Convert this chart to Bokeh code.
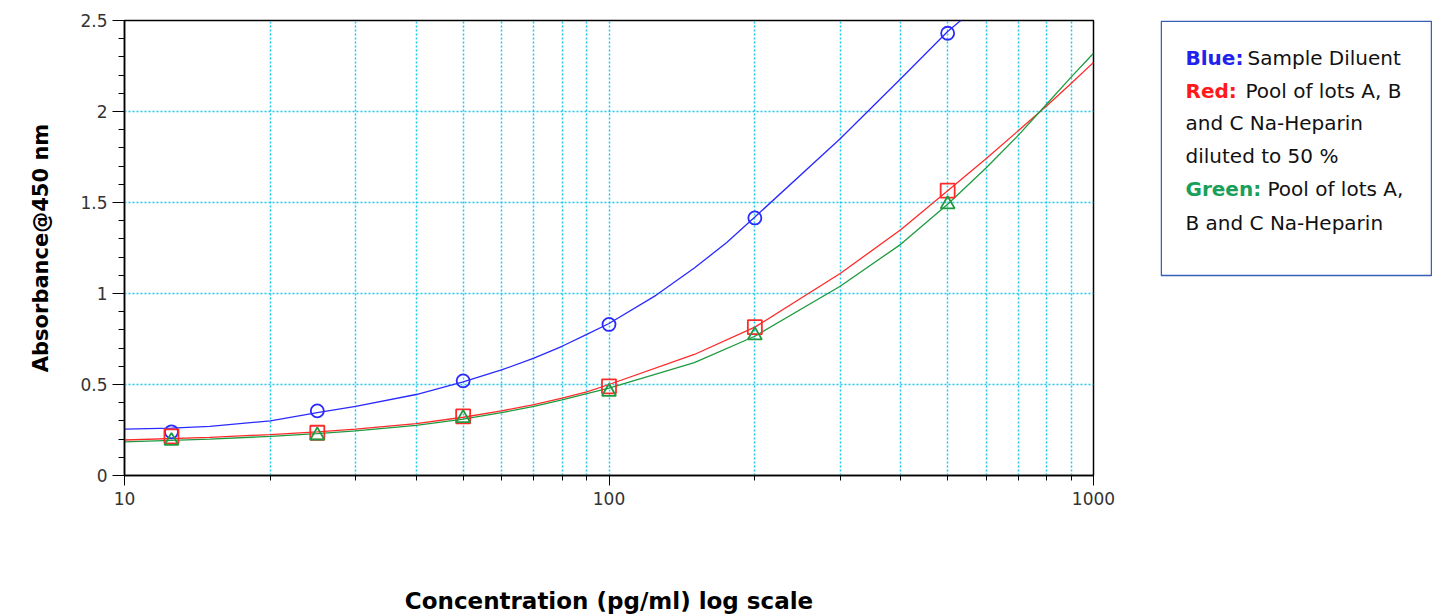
from bokeh.plotting import figure
from bokeh.models import Range1d, FixedTicker, SingleIntervalTicker, Label, BoxAnnotation
from bokeh.layouts import row
from bokeh.embed import file_html
from bokeh.resources import INLINE
from bokeh.core.validation import silence
from bokeh.core.validation.warnings import MISSING_RENDERERS

silence(MISSING_RENDERERS, True)

# ---- data ----
conc = [12.5, 25, 50, 100, 200, 500]
blue_pts = [0.24, 0.355, 0.52, 0.83, 1.415, 2.43]
red_pts = [0.215, 0.235, 0.325, 0.49, 0.815, 1.565]
green_pts = [0.19, 0.22, 0.315, 0.46, 0.77, 1.49]

blue_fit_x = [10, 12.5, 15, 20, 25, 30, 40, 50, 60, 70, 80, 90, 100, 125, 150, 175, 200, 300, 400, 500, 532]
blue_fit_y = [0.255, 0.26, 0.27, 0.30, 0.345, 0.38, 0.445, 0.515, 0.58, 0.645, 0.71, 0.775, 0.835,
              0.99, 1.14, 1.28, 1.42, 1.85, 2.18, 2.44, 2.5]
red_fit_x = [10, 15, 20, 25, 30, 40, 50, 60, 70, 80, 90, 100, 150, 200, 300, 400, 500, 600, 700, 800, 900, 1000]
red_fit_y = [0.195, 0.21, 0.225, 0.24, 0.255, 0.285, 0.32, 0.355, 0.39, 0.425, 0.46, 0.50, 0.665, 0.815,
             1.11, 1.35, 1.565, 1.74, 1.895, 2.03, 2.155, 2.27]
green_fit_x = [10, 15, 20, 25, 30, 40, 50, 60, 70, 80, 90, 100, 150, 200, 300, 400, 500, 600, 700, 800, 900, 1000]
green_fit_y = [0.185, 0.20, 0.215, 0.23, 0.245, 0.275, 0.31, 0.345, 0.38, 0.415, 0.45, 0.48, 0.62, 0.765,
               1.04, 1.27, 1.49, 1.69, 1.87, 2.04, 2.19, 2.32]

x_major = [10, 100, 1000]
x_major_labels = ["10", "100", "1000"]
x_minor = [20, 30, 40, 50, 60, 70, 80, 90, 200, 300, 400, 500, 600, 700, 800, 900]
y_major = [0, 0.5, 1, 1.5, 2, 2.5]
y_major_labels = ["0", "0.5", "1", "1.5", "2", "2.5"]

BLUE = "#2a2aff"
RED = "#ff2a2a"
GREEN = "#1f9a40"
GRID = "#1ec8ee"

H = 616
TOP = 20
BOTTOM = 141

p = figure(width=1160, height=H, x_axis_type="log",
           x_range=Range1d(10, 1000), y_range=Range1d(0, 2.5),
           toolbar_location=None, output_backend="svg",
           min_border_left=124, min_border_right=67, min_border_top=TOP, min_border_bottom=BOTTOM)
p.background_fill_color = "white"
p.border_fill_color = "white"
p.outline_line_color = "black"
p.outline_line_width = 1.5

# axes
p.xaxis.ticker = FixedTicker(ticks=x_major, minor_ticks=x_minor)
p.xaxis.major_label_overrides = dict(zip(x_major, x_major_labels))
p.yaxis.ticker = SingleIntervalTicker(interval=0.5, num_minor_ticks=5)
p.yaxis.major_label_overrides = dict(zip(y_major, y_major_labels))
for ax in (p.xaxis, p.yaxis):
    ax.axis_line_color = "black"
    ax.axis_line_width = 1.5
    ax.major_tick_line_color = "black"
    ax.minor_tick_line_color = "black"
    ax.major_tick_in = 0
    ax.minor_tick_in = 0
    ax.major_label_text_font = "DejaVu Sans"
    ax.major_label_text_font_size = "17px"
    ax.major_label_text_color = "#333333"
    ax.axis_label_text_color = "black"
    ax.axis_label_text_font_style = "bold"
    ax.axis_label_text_font = "DejaVu Sans"
p.xaxis.major_tick_out = 10
p.xaxis.minor_tick_out = 5
p.yaxis.major_tick_out = 12
p.yaxis.minor_tick_out = 6
p.xaxis.major_label_standoff = 6
p.yaxis.major_label_standoff = 5

p.xaxis.axis_label = "Concentration (pg/ml) log scale"
p.xaxis.axis_label_text_font_size = "23px"
p.xaxis.axis_label_standoff = 80
p.yaxis.axis_label = "Absorbance@450 nm"
p.yaxis.axis_label_text_font_size = "21px"
p.yaxis.axis_label_standoff = 24

# grid
p.xgrid.grid_line_color = GRID
p.xgrid.grid_line_dash = "2 2"
p.xgrid.grid_line_width = 1.5
p.xgrid.minor_grid_line_color = GRID
p.xgrid.minor_grid_line_dash = "2 2"
p.xgrid.minor_grid_line_width = 1.5
p.ygrid.grid_line_color = GRID
p.ygrid.grid_line_dash = "2 2"
p.ygrid.grid_line_width = 1.5

# fitted curves
p.line(blue_fit_x, blue_fit_y, line_color=BLUE, line_width=1.3)
p.line(red_fit_x, red_fit_y, line_color=RED, line_width=1.3)
p.line(green_fit_x, green_fit_y, line_color=GREEN, line_width=1.3)

# data points
p.scatter(conc, blue_pts, marker="circle", size=13, fill_color=None, line_color=BLUE, line_width=1.8)
p.scatter(conc, red_pts, marker="square", size=14, fill_color=None, line_color=RED, line_width=1.8)
p.scatter(conc, green_pts, marker="triangle", size=14, fill_color=None, line_color=GREEN, line_width=1.8)

# ---- legend panel (page-pixel coordinates: x to the right, y downward) ----
q = figure(width=272, height=H, x_range=Range1d(1160, 1432), y_range=Range1d(475, 20),
           toolbar_location=None, output_backend="svg",
           min_border_left=0, min_border_right=0, min_border_top=TOP, min_border_bottom=BOTTOM)
q.axis.visible = False
q.grid.visible = False
q.outline_line_color = None
q.background_fill_color = "white"
q.border_fill_color = "white"
q.add_layout(BoxAnnotation(left=1160.75, right=1431, top=20.75, bottom=275,
                           fill_color=None, fill_alpha=0,
                           line_color="#3560b8", line_alpha=1.0, line_width=1.5))

legend_items = [
    (1185, 57, "Blue:", "#2222ee", "bold"),
    (1247, 57, "Sample Diluent", "#111111", "normal"),
    (1185, 90, "Red:", "#ff1a1a", "bold"),
    (1245, 90, "Pool of lots A, B", "#111111", "normal"),
    (1185, 122, "and C Na-Heparin", "#111111", "normal"),
    (1185, 155, "diluted to 50 %", "#111111", "normal"),
    (1185, 188, "Green:", "#18a05a", "bold"),
    (1267, 188, "Pool of lots A,", "#111111", "normal"),
    (1185, 222, "B and C Na-Heparin", "#111111", "normal"),
]
for lx, ly, txt, col, sty in legend_items:
    q.add_layout(Label(x=lx, y=ly, text=txt, text_color=col, text_font="DejaVu Sans",
                       text_font_size="20px", text_font_style=sty, text_baseline="alphabetic"))

layout = row(p, q)
open("out.html", "w").write(file_html(layout, INLINE))
